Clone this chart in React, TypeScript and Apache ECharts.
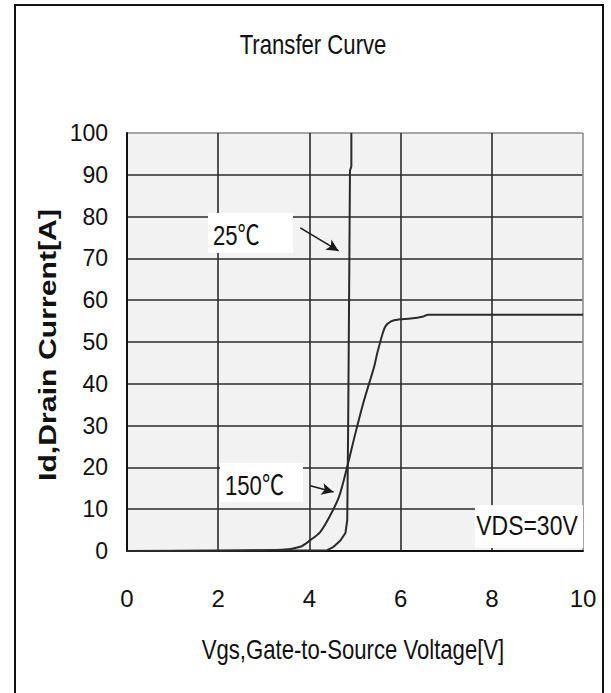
import React, { useEffect, useRef } from "react";
import * as echarts from "echarts";

const titleText = "Transfer Curve";
const xName = "Vgs,Gate-to-Source Voltage[V]";
const yName = "Id,Drain Current[A]";

const xMin = 0;
const xMax = 10;
const xStep = 2;
const yMin = 0;
const yMax = 100;
const yStep = 10;

// 25 °C curve
const vgs25 = [0, 4.39, 4.53, 4.68, 4.79, 4.83, 4.85, 4.87, 4.89, 4.92, 4.92];
const id25 = [0, 0.2, 1, 2.5, 4.3, 7.4, 30, 60, 91, 92, 100];

// 150 °C curve
const vgs150 = [0, 3.4, 3.8, 4.02, 4.24, 4.46, 4.65, 4.83, 5.01, 5.2, 5.42, 5.49, 5.6, 5.67, 5.8, 5.96, 6.22, 6.5, 6.6, 10];
const id150 = [0, 0.3, 1, 2.6, 4.6, 8.6, 13, 20.2, 28.2, 36.1, 44.1, 47.4, 51.8, 53.8, 55.0, 55.4, 55.6, 56.1, 56.5, 56.5];

// annotation arrows (data coordinates)
const arrow25 = [[3.8, 77.3], [4.64, 71.8]];
const arrow150 = [[4.02, 15.6], [4.53, 14.1]];

const label25 = "25℃";
const label150 = "150℃";
const labelVds = "VDS=30V";

const FONT = '"Liberation Sans", Arial, "Noto Sans CJK SC", sans-serif';
const NARROW = 0.82;

export default function App() {
  const ref = useRef<HTMLDivElement>(null);
  useEffect(() => {
    document.body.style.margin = "0";
    const chart = echarts.init(ref.current!, null, { renderer: "svg" });
    const pts25 = vgs25.map((v, i) => [v, id25[i]]);
    const pts150 = vgs150.map((v, i) => [v, id150[i]]);
    const yColors = [];
    for (let v = yMin; v <= yMax; v += yStep) yColors.push(v === yMax ? "#9a9a9a" : "#2a2a2a");
    const xColors = [];
    for (let v = xMin; v <= xMax; v += xStep) xColors.push(v === xMax ? "#9a9a9a" : "#2a2a2a");
    const arrowLine = (a: number[][]) => ({
      silent: true,
      symbol: ["none", "arrow"],
      symbolSize: [9, 12],
      label: { show: false },
      lineStyle: { color: "#1a1a1a", width: 1.6, type: "solid" },
      data: [[{ coord: a[0] }, { coord: a[1] }]],
    });
    const txt = (text: string, x: number, y: number, size: number, align: string) => ({
      type: "text",
      z: 100,
      x,
      y,
      scaleX: NARROW,
      style: { text, fontSize: size, fontFamily: FONT, fill: "#111", align, verticalAlign: "middle" },
    });
    chart.setOption({
      animation: false,
      backgroundColor: "#ffffff",
      grid: {
        left: 127,
        right: 28,
        top: 133,
        bottom: 142,
        show: true,
        backgroundColor: "#f2f2f2",
        borderColor: "#9a9a9a",
        borderWidth: 1,
      },
      xAxis: {
        type: "value",
        min: xMin,
        max: xMax,
        interval: xStep,
        axisLine: { show: true, onZero: false, lineStyle: { color: "#111", width: 2 } },
        axisTick: { show: false },
        axisLabel: { margin: 35, fontSize: 24, color: "#111", fontFamily: FONT },
        splitLine: { show: true, lineStyle: { color: xColors, width: 1.6 } },
      },
      yAxis: {
        type: "value",
        min: yMin,
        max: yMax,
        interval: yStep,
        axisLine: { show: true, onZero: false, lineStyle: { color: "#111", width: 2 } },
        axisTick: { show: false },
        axisLabel: { margin: 19, fontSize: 23, color: "#111", fontFamily: FONT },
        splitLine: { show: true, lineStyle: { color: yColors, width: 1.6 } },
      },
      series: [
        {
          name: "25℃",
          type: "line",
          data: pts25,
          showSymbol: false,
          symbol: "none",
          lineStyle: { color: "#2a2a2a", width: 2 },
          z: 5,
          markLine: arrowLine(arrow25),
        },
        {
          name: "150℃",
          type: "line",
          data: pts150,
          showSymbol: false,
          symbol: "none",
          smooth: 0.3,
          lineStyle: { color: "#2a2a2a", width: 2 },
          z: 5,
          markLine: arrowLine(arrow150),
        },
      ],
      graphic: [
        {
          type: "rect",
          z: 100,
          shape: { x: 15, y: 5, width: 588, height: 720 },
          style: { fill: "none", stroke: "#111", lineWidth: 2 },
        },
        txt(titleText, 313, 45, 27, "center"),
        txt(xName, 353, 650, 27, "center"),
        {
          type: "text",
          z: 100,
          x: 48,
          y: 345,
          rotation: Math.PI / 2,
          scaleX: 1.26,
          style: {
            text: yName,
            fontSize: 24,
            fontWeight: "bold",
            fontFamily: FONT,
            fill: "#111",
            align: "center",
            verticalAlign: "middle",
          },
        },
        {
          type: "rect",
          z: 3,
          shape: { x: 208, y: 213, width: 85, height: 40 },
          style: { fill: "#ffffff" },
        },
        txt(label25, 213, 236, 27, "left"),
        {
          type: "rect",
          z: 3,
          shape: { x: 220, y: 463, width: 83, height: 39 },
          style: { fill: "#ffffff" },
        },
        txt(label150, 225, 486, 27, "left"),
        {
          type: "rect",
          z: 3,
          shape: { x: 475, y: 505, width: 108, height: 43 },
          style: { fill: "#ffffff" },
        },
        txt(labelVds, 527, 525, 28, "center"),
      ],
    });
    return () => chart.dispose();
  }, []);
  return <div ref={ref} style={{ position: "absolute", left: 0, top: 0, width: 611, height: 693 }} />;
}
